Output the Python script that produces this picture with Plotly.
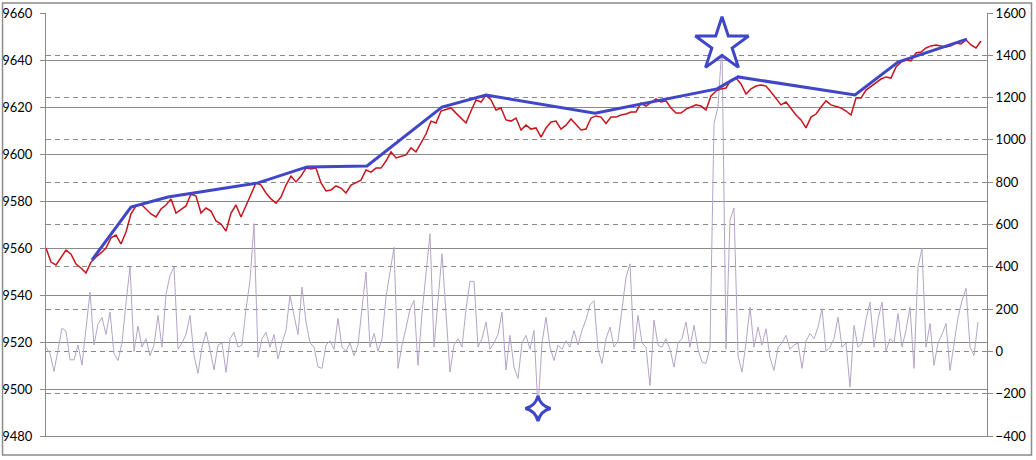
import plotly.graph_objects as go

# ---------------- data ----------------
price_step = 5      # time ticks between price samples
volume_step = 4     # time ticks between volume samples

price = [
    9560.0, 9554.0, 9552.8, 9556.2, 9559.1, 9557.4, 9553.2, 9551.5, 9549.4, 9554.0,
    9556.2, 9557.9, 9560.0, 9564.3, 9565.5, 9561.7, 9566.8, 9574.5, 9577.9, 9578.7,
    9576.6, 9574.5, 9573.2, 9576.6, 9578.3, 9580.9, 9574.9, 9576.6, 9577.9, 9583.0,
    9582.1, 9574.9, 9577.0, 9575.7, 9571.5, 9570.2, 9567.2, 9574.9, 9578.3, 9573.2,
    9577.9, 9582.6, 9587.7, 9586.8, 9583.4, 9580.9, 9579.1, 9581.7, 9586.8, 9590.6,
    9588.1, 9590.6, 9594.0, 9593.6, 9594.0, 9587.7, 9584.3, 9584.7, 9586.4, 9585.5,
    9583.4, 9586.8, 9587.7, 9588.9, 9593.2, 9592.3, 9594.0, 9594.0, 9597.0, 9600.9,
    9598.3, 9599.1, 9599.6, 9602.6, 9600.9, 9604.7, 9608.5, 9614.0, 9613.2, 9618.3,
    9619.1, 9619.6, 9617.4, 9615.3, 9613.2, 9618.3, 9623.0, 9622.1, 9625.1, 9623.0,
    9618.7, 9619.6, 9614.5, 9614.0, 9615.3, 9610.2, 9612.3, 9610.6, 9611.1, 9607.2,
    9611.1, 9613.6, 9614.0, 9610.6, 9612.3, 9614.9, 9612.3, 9610.2, 9610.6, 9615.3,
    9616.2, 9615.7, 9613.0, 9615.7, 9615.7, 9616.6, 9617.0, 9617.9, 9617.9, 9621.7,
    9620.4, 9622.1, 9623.4, 9622.1, 9622.6, 9619.6, 9617.4, 9617.4, 9619.1, 9620.0,
    9620.9, 9620.4, 9618.7, 9624.7, 9626.8, 9627.7, 9628.1, 9631.5, 9632.3, 9629.8,
    9625.5, 9627.7, 9628.9, 9629.4, 9628.9, 9626.4, 9623.8, 9620.9, 9622.1, 9619.1,
    9616.6, 9614.5, 9611.1, 9615.7, 9617.0, 9620.0, 9622.6, 9620.9, 9620.4, 9619.6,
    9618.3, 9616.6, 9623.8, 9623.8, 9627.2, 9628.9, 9630.2, 9631.9, 9632.8, 9632.3,
    9637.0, 9639.1, 9640.0, 9639.6, 9643.0, 9643.4, 9645.1, 9646.0, 9646.4, 9646.0,
    9645.5, 9646.0, 9647.2, 9646.8, 9648.5, 9646.4, 9645.1, 9648.1,
]

volume = [
    20, -10, -95, 10, 110, 95, -40, -40, 30, -65,
    100, 280, 30, 130, 160, 80, 186, -10, -43, 40,
    230, 399, 0, 120, 20, 60, -20, 30, 170, 20,
    270, 360, 399, 10, 40, 80, 170, -20, -104, 20,
    91, 10, -88, 30, 40, -99, 60, 91, 20, 30,
    200, 336, 604, -28, 60, 91, 20, 80, -35, 40,
    100, 265, 170, 80, 304, 139, 40, 20, -74, -80,
    30, 50, 10, 156, 20, 0, 40, -20, 30, 200,
    375, 20, 85, 0, 60, 257, 375, 492, -80, 30,
    110, 200, 241, -66, 180, 380, 556, 20, 250, 462,
    180, -98, 30, 60, 20, 200, 331, 331, 20, 60,
    139, 10, 40, 80, 186, -88, 76, -74, -128, 40,
    76, 10, 99, -270, 40, 162, 20, -43, 30, 10,
    50, 20, 99, 30, 100, 150, 220, 240, 10, -57,
    60, 115, 20, 50, 200, 350, 414, 10, 170, 40,
    20, -161, 148, 30, 20, 60, 10, -74, 40, 60,
    139, 20, 123, 10, -50, -57, 20, 1078, 1155, 1450,
    10, 620, 678, -20, -98, 40, 209, 20, 115, 30,
    107, -30, -90, 20, 40, 76, 10, 30, 40, -80,
    50, 84, 60, 115, 202, 0, 20, 60, 162, 20,
    40, -169, 123, 20, 38, 150, 233, 20, 150, 233,
    0, 60, 40, 178, 20, 100, 209, -80, 400, 487,
    20, 132, -66, 40, 80, 132, -90, 40, 160, 240,
    298, 20, -19, 139,
]

trend_t = [46, 85, 122, 212, 261, 321, 396, 440, 549, 671, 692, 809, 852, 921]
trend_v = [9554.9, 9577.4, 9581.7, 9587.7, 9594.5, 9594.9, 9620.0, 9625.1,
           9617.4, 9627.7, 9632.8, 9625.1, 9639.1, 9648.9]

price_ticks = [9480, 9500, 9520, 9540, 9560, 9580, 9600, 9620, 9640, 9660]
volume_ticks = [-400, -200, 0, 200, 400, 600, 800, 1000, 1200, 1400, 1600]

# ---------------- derived ----------------
t_price = [i * price_step for i in range(len(price))]
t_volume = [i * volume_step for i in range(len(volume))]
i_max = max(range(len(volume)), key=lambda i: volume[i])
i_min = min(range(len(volume)), key=lambda i: volume[i])

RED = "#C8141C"
BLUE = "#3F46C8"
LAV = "#B2A5C8"
GRID = "#8A8A8A"

fig = go.Figure()
fig.add_trace(go.Scatter(x=t_volume, y=volume, yaxis="y", mode="lines",
                         line=dict(color=LAV, width=1), hoverinfo="skip"))
fig.add_trace(go.Scatter(x=[t_volume[i_max]], y=[volume[i_max]], yaxis="y", mode="markers",
                         marker=dict(symbol="star", size=40, color="white",
                                     line=dict(color=BLUE, width=3)), hoverinfo="skip"))
fig.add_trace(go.Scatter(x=[t_volume[i_min]], y=[volume[i_min]], yaxis="y", mode="markers",
                         marker=dict(symbol="star-diamond", size=18, color="white",
                                     line=dict(color=BLUE, width=3)), hoverinfo="skip"))
fig.add_trace(go.Scatter(x=t_price, y=price, yaxis="y2", mode="lines",
                         line=dict(color=RED, width=1.5), hoverinfo="skip"))
fig.add_trace(go.Scatter(x=trend_t, y=trend_v, yaxis="y2", mode="lines",
                         line=dict(color=BLUE, width=3), hoverinfo="skip"))

font = dict(family="Lato, Calibri, sans-serif", size=13, color="black")

fig.update_layout(
    width=1036, height=460, autosize=False,
    margin=dict(l=46, r=49, t=13, b=24, pad=0, autoexpand=False),
    paper_bgcolor="white", plot_bgcolor="white",
    showlegend=False, font=font, hovermode=False,
    xaxis=dict(range=[0, 941], showgrid=False, zeroline=False, showticklabels=False,
               ticks="", showline=True, linecolor=GRID, linewidth=1, fixedrange=True,
               automargin=False),
    yaxis=dict(side="right", range=[-400, 1600], tickvals=volume_ticks,
               showgrid=True, gridcolor=GRID, gridwidth=1, griddash="5px,4px",
               zeroline=False, showline=True, linecolor=GRID, linewidth=1,
               ticks="outside", ticklen=5, tickcolor=GRID, tickfont=font,
               automargin=False),
    yaxis2=dict(side="left", overlaying="y", range=[9480, 9660], tickvals=price_ticks,
                showgrid=True, gridcolor=GRID, gridwidth=1,
                zeroline=False, showline=True, linecolor=GRID, linewidth=1,
                ticks="outside", ticklen=5, tickcolor=GRID, tickfont=font,
                ticklabelstandoff=5, automargin=False),
    shapes=[dict(type="rect", xref="paper", yref="paper",
                 x0=-0.0462, x1=1.0473, y0=-0.0449, y1=1.0236,
                 line=dict(color="#8C8C8C", width=1.5), fillcolor="rgba(0,0,0,0)",
                 layer="above")],
)

fig.write_html("out.html", config={"displayModeBar": False},
               post_script="document.body.style.margin='0px';document.body.style.padding='0px';")
